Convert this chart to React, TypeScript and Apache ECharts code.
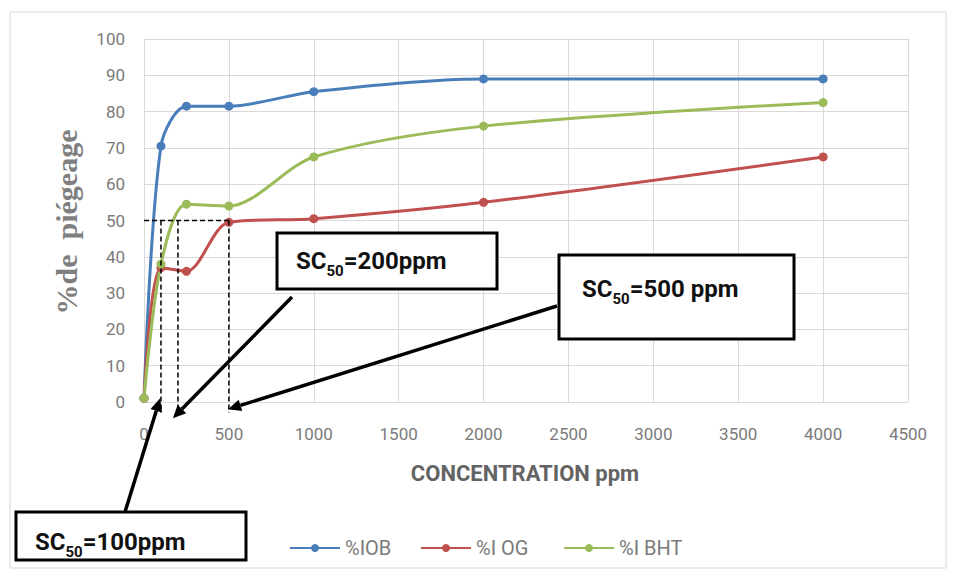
import React, { useEffect, useRef } from "react";
import * as echarts from "echarts";

const concentrations = [0, 100, 250, 500, 1000, 2000, 4000];
const iobValues = [1, 70.5, 81.5, 81.5, 85.5, 89, 89];
const iogValues = [1, 37, 36, 49.5, 50.5, 55, 67.5];
const ibhtValues = [1, 38, 54.5, 54, 67.5, 76, 82.5];
const seriesNames = ["%IOB", "%I OG", "%I BHT"];
const seriesColors = ["#4a7ebb", "#c0504d", "#9bbb59"];
const sc50Levels = [100, 200, 500];
const sc50Labels = ["100ppm", "200ppm", "500 ppm"];
const halfLevel = 50;

const FONT = "Roboto, 'Noto Sans', sans-serif";
const legendLefts = [289, 420, 563];

export default function App() {
  const ref = useRef<HTMLDivElement>(null);
  useEffect(() => {
    if (!ref.current) return;
    const chart = echarts.init(ref.current, undefined, { renderer: "svg" });
    const allSeries = [iobValues, iogValues, ibhtValues];
    const option: any = {
      animation: false,
      backgroundColor: "#ffffff",
      grid: { left: 144, right: 46, top: 39, bottom: 172 },
      xAxis: {
        type: "value",
        min: 0,
        max: 4500,
        interval: 500,
        axisLine: { show: true, lineStyle: { color: "#d9d9d9", width: 1 } },
        axisTick: { show: false },
        splitLine: { show: true, lineStyle: { color: "#d9d9d9", width: 1 } },
        axisLabel: { color: "#7a7a7a", fontSize: 17, fontFamily: FONT, margin: 23, formatter: (v: number) => String(v) },
      },
      yAxis: {
        type: "value",
        min: 0,
        max: 100,
        interval: 10,
        axisLine: { show: false },
        axisTick: { show: false },
        splitLine: { show: true, lineStyle: { color: "#d9d9d9", width: 1 } },
        axisLabel: { color: "#7a7a7a", fontSize: 17, fontFamily: FONT, margin: 19 },
      },
      legend: seriesNames.map((n, i) => ({
        left: legendLefts[i],
        top: 538,
        padding: 0,
        itemWidth: 50,
        itemHeight: 10,
        textStyle: { color: "#7a7a7a", fontSize: 20, fontFamily: FONT },
        data: [n],
      })),
      series: allSeries.map((vals, i) => ({
        name: seriesNames[i],
        type: "line",
        smooth: 0.3,
        symbol: "circle",
        symbolSize: 9,
        lineStyle: { color: seriesColors[i], width: 3 },
        itemStyle: { color: seriesColors[i] },
        data: concentrations.map((c, j) => [c, vals[j]]),
        z: 3,
      })),
    };
    chart.setOption(option);

    const px = (x: number, y: number) => chart.convertToPixel({ gridIndex: 0 }, [x, y]) as number[];
    const dash = { stroke: "#000", lineWidth: 1.5, lineDash: [5, 3] };
    const g: any[] = [];
    g.push({ type: "rect", shape: { x: 10, y: 12, width: 936, height: 556 }, style: { fill: "none", stroke: "#d9d9d9", lineWidth: 1 }, z: 0 });
    const h0 = px(0, halfLevel);
    const h1 = px(sc50Levels[2], halfLevel);
    g.push({ type: "line", shape: { x1: h0[0], y1: h0[1], x2: h1[0], y2: h1[1] }, style: dash, z: 10 });
    sc50Levels.forEach((lv) => {
      const a = px(lv, halfLevel);
      const b = px(lv, -3);
      g.push({ type: "line", shape: { x1: a[0], y1: a[1], x2: b[0], y2: b[1] }, style: dash, z: 10 });
    });
    const arrows = [
      { tail: [125, 512], tip: px(95, 1) },
      { tail: [292, 297], tip: px(170, -4.5) },
      { tail: [557, 306], tip: px(495, -2) },
    ];
    arrows.forEach((a) => {
      const [tx, ty] = a.tail;
      const [hx, hy] = a.tip;
      const dx = hx - tx, dy = hy - ty;
      const len = Math.sqrt(dx * dx + dy * dy);
      const ux = dx / len, uy = dy / len;
      const hl = 13, hw = 6;
      const bx = hx - ux * hl, by = hy - uy * hl;
      g.push({ type: "line", shape: { x1: tx, y1: ty, x2: bx, y2: by }, style: { stroke: "#000", lineWidth: 3.5 }, z: 11 });
      g.push({
        type: "polygon",
        shape: { points: [[hx, hy], [bx - uy * hw, by + ux * hw], [bx + uy * hw, by - ux * hw]] },
        style: { fill: "#000" },
        z: 11,
      });
    });
    const boxes = [
      { x: 277, y: 233, w: 220, h: 56, tx: 296, ty: 261, label: sc50Labels[1] },
      { x: 559, y: 255, w: 235, h: 84, tx: 582, ty: 289, label: sc50Labels[2] },
      { x: 16, y: 512, w: 230, h: 48, tx: 35, ty: 542, label: sc50Labels[0] },
    ];
    boxes.forEach((b) => {
      g.push({ type: "rect", shape: { x: b.x, y: b.y, width: b.w, height: b.h }, style: { fill: "#fff", stroke: "#000", lineWidth: 3 }, z: 12 });
      g.push({
        type: "text",
        x: b.tx,
        y: b.ty,
        style: {
          text: "{a|SC}{s|50}{a|=" + b.label + "}",
          textVerticalAlign: "middle",
          rich: {
            a: { fontSize: 24, fontWeight: "bold", fontFamily: FONT, fill: "#111", lineHeight: 34, verticalAlign: "middle" },
            s: { fontSize: 15, fontWeight: "bold", fontFamily: FONT, fill: "#111", lineHeight: 16, verticalAlign: "bottom" },
          },
        },
        z: 13,
      });
    });
    g.push({
      type: "text",
      x: 525,
      y: 473,
      style: { text: "CONCENTRATION ppm", fill: "#636363", fontSize: 22, fontWeight: "bold", fontFamily: FONT, textAlign: "center", textVerticalAlign: "middle" },
    });
    g.push({
      type: "text",
      x: 66,
      y: 222,
      rotation: Math.PI / 2,
      style: { text: "%de  piégeage", fill: "#7f7f7f", fontSize: 30, fontWeight: "bold", fontFamily: "'Liberation Serif', serif", textAlign: "center", textVerticalAlign: "middle" },
    });
    chart.setOption({ graphic: g });
    return () => chart.dispose();
  }, []);
  return <div ref={ref} style={{ width: 954, height: 574, position: "absolute", left: 0, top: 0 }} />;
}
